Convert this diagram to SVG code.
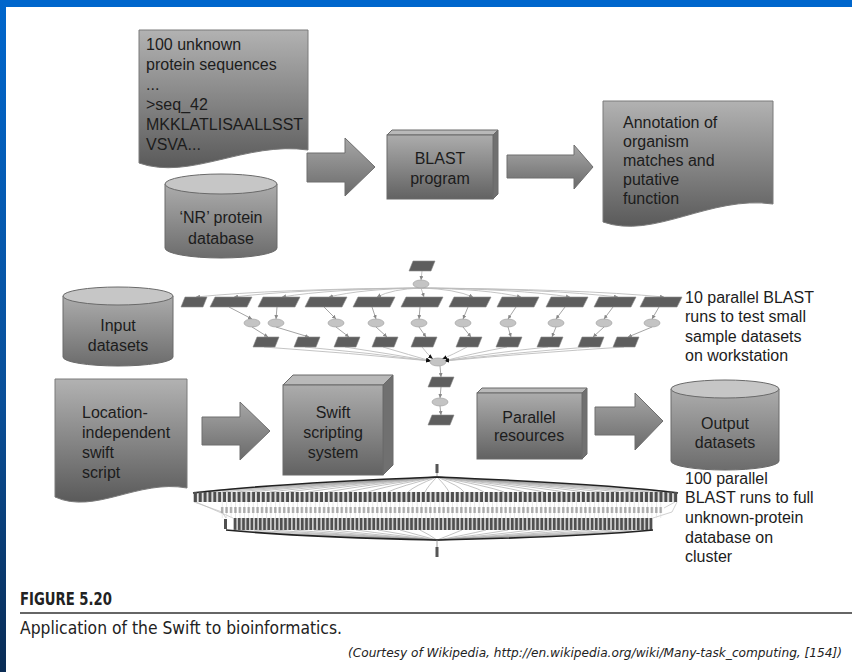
<svg xmlns="http://www.w3.org/2000/svg" xmlns:xlink="http://www.w3.org/1999/xlink" width="852" height="672" viewBox="0 0 852 672">
  <defs>
    <style>
      .t { font-family: "Liberation Sans", Arial, sans-serif; font-size: 16px; fill: #1c1c1c; }
      .c { text-anchor: middle; }
      .doc { fill: url(#gDoc); stroke: #7a7a7a; stroke-width: 1; }
      .arrow { fill: url(#gArrow); stroke: #6e6e6e; stroke-width: 1; }
      .front { fill: url(#gFront); stroke: #6a6a6a; stroke-width: 1; }
      .top { fill: #b9b9b9; stroke: #6a6a6a; stroke-width: 1; }
      .side { fill: #707070; stroke: #6a6a6a; stroke-width: 1; }
      .cylBody { fill: url(#gCyl); stroke: #6a6a6a; stroke-width: 1; }
      .cylTop { fill: #c6c6c6; stroke: #6a6a6a; stroke-width: 1; }
      .pg { fill: #5e5e5e; stroke: #8a8a8a; stroke-width: 0.6; }
      .el { fill: #c4c4c4; stroke: #9a9a9a; stroke-width: 0.6; }
      .e { fill: none; stroke: #bdbdbd; stroke-width: 0.9; }
      .ed { fill: none; stroke: #9a9a9a; stroke-width: 0.9; }
      .cap { font-family: "Liberation Sans Narrow", "DejaVu Sans Condensed", "Liberation Sans", sans-serif; font-stretch: condensed; fill: #222; }
    </style>
    <linearGradient id="blueV" x1="0" y1="0" x2="0" y2="1">
      <stop offset="0" stop-color="#0066cc"/>
      <stop offset="0.6" stop-color="#0a4f98"/>
      <stop offset="1" stop-color="#0a2c55"/>
    </linearGradient>
    <linearGradient id="gDoc" x1="0" y1="0" x2="0" y2="1">
      <stop offset="0" stop-color="#b2b2b2"/>
      <stop offset="1" stop-color="#5a5a5a"/>
    </linearGradient>
    <linearGradient id="gArrow" x1="0" y1="0" x2="0" y2="1">
      <stop offset="0" stop-color="#a6a6a6"/>
      <stop offset="1" stop-color="#6a6a6a"/>
    </linearGradient>
    <linearGradient id="gFront" x1="0" y1="0" x2="0" y2="1">
      <stop offset="0" stop-color="#acacac"/>
      <stop offset="1" stop-color="#626262"/>
    </linearGradient>
    <linearGradient id="gCyl" x1="0" y1="0" x2="0" y2="1">
      <stop offset="0" stop-color="#acacac"/>
      <stop offset="1" stop-color="#6c6c6c"/>
    </linearGradient>
    <!-- task shapes of the workflow graphs -->
    <path id="pw" d="M5,0 H42 L37,10 H0 Z"/>
    <path id="pn" d="M4,0 H26 L22,10 H0 Z"/>
    <marker id="ah" markerWidth="4" markerHeight="4" refX="4" refY="2" orient="auto" markerUnits="userSpaceOnUse">
      <path d="M0,0 L4,2 L0,4 Z" fill="#888"/>
    </marker>
    <marker id="ahk" markerWidth="5" markerHeight="4" refX="5" refY="2" orient="auto" markerUnits="userSpaceOnUse">
      <path d="M0,0 L5,2 L0,4 Z" fill="#111"/>
    </marker>
    <!-- dense rows of the 100-task graph -->
    <pattern id="row1" x="193" y="492" width="4.85" height="10" patternUnits="userSpaceOnUse">
      <rect x="0.7" y="0" width="3.3" height="10" fill="#4e4e4e"/>
    </pattern>
    <pattern id="row2" x="220" y="502" width="4.43" height="16" patternUnits="userSpaceOnUse">
      <rect x="1.8" y="0" width="0.6" height="16" fill="#dcdcdc"/>
      <rect x="1" y="5" width="2.3" height="6" fill="#a8a8a8"/>
    </pattern>
    <pattern id="row3" x="233" y="518" width="4.2" height="12" patternUnits="userSpaceOnUse">
      <rect x="0.6" y="0" width="3" height="12" fill="#505050"/>
    </pattern>
  </defs>

  <!-- page -->
  <rect x="0" y="0" width="852" height="672" fill="#ffffff"/>
  <rect x="0" y="0" width="852" height="7" fill="#0066cc"/>
  <rect x="0" y="0" width="6" height="672" fill="url(#blueV)"/>

  <!-- block arrows -->
  <g id="connectors">
    <path class="arrow" d="M307,153 H345 V138 L375,167 L345,196 V182 H307 Z"/>
    <path class="arrow" d="M507,155 H574 V145 L593,167 L574,189 V178 H507 Z"/>
    <path class="arrow" d="M202,417 H240 V402 L270,431 L240,460 V445 H202 Z"/>
    <path class="arrow" d="M595,407 H635 V393 L663,421 L635,450 V435 H595 Z"/>
  </g>

  <g id="sequences">
    <path class="doc" d="M139,30 H308 V150 C246,141 190,181 139,163 Z"/>
    <text class="t" x="146" y="50">100 unknown</text>
    <text class="t" x="146" y="70">protein sequences</text>
    <text class="t" x="146" y="90">...</text>
    <text class="t" x="146" y="110">&gt;seq_42</text>
    <text class="t" x="146" y="130">MKKLATLISAALLSST</text>
    <text class="t" x="146" y="150">VSVA...</text>
  </g>

  <g id="nr-database">
    <path class="cylBody" d="M165,184 V248 A56,10 0 0 0 277,248 V184 Z"/>
    <ellipse class="cylTop" cx="221" cy="184" rx="56" ry="10"/>
    <text class="t c" x="221" y="223">‘NR’ protein</text>
    <text class="t c" x="221" y="244">database</text>
  </g>

  <g id="blast">
    <polygon class="top" points="387,135 392,130 498,130 493,135"/>
    <polygon class="side" points="493,135 498,130 498,194 493,199"/>
    <rect class="front" x="387" y="135" width="106" height="64"/>
    <text class="t c" x="440" y="164">BLAST</text>
    <text class="t c" x="440" y="184">program</text>
  </g>

  <g id="annotation">
    <path class="doc" d="M603,101 H773 V204 C710,195 654,240 603,222 Z"/>
    <text class="t" x="623" y="128">Annotation of</text>
    <text class="t" x="623" y="147">organism</text>
    <text class="t" x="623" y="166">matches and</text>
    <text class="t" x="623" y="185">putative</text>
    <text class="t" x="623" y="204">function</text>
  </g>

  <g id="input-datasets">
    <path class="cylBody" d="M63,296 V357 A55,9 0 0 0 173,357 V296 Z"/>
    <ellipse class="cylTop" cx="118" cy="296" rx="55" ry="9"/>
    <text class="t c" x="118" y="331">Input</text>
    <text class="t c" x="118" y="351">datasets</text>
  </g>

  <!-- ten-task workflow -->
  <g id="wf-small-edges">
    <line class="e" x1="422" y1="271" x2="421" y2="280" marker-end="url(#ah)"/>
    <g marker-end="url(#ah)">
      <path class="e" d="M421,288 Q275,289 196,297"/>
      <path class="e" d="M421,288 Q299,289 234,297"/>
      <path class="e" d="M421,288 Q330,289 282,297"/>
      <path class="e" d="M421,288 Q361,289 329,297"/>
      <path class="e" d="M421,288 Q392,289 377,297"/>
      <path class="e" d="M421,288 L424,297"/>
      <path class="e" d="M421,288 Q455,289 473,297"/>
      <path class="e" d="M421,288 Q486,289 521,297"/>
      <path class="e" d="M421,288 Q518,289 570,297"/>
      <path class="e" d="M421,288 Q548,289 618,297"/>
      <path class="e" d="M421,288 Q578,289 664,297"/>
      <path class="ed" d="M229,307 L252,319"/>
      <path class="ed" d="M277,307 L276,319"/>
      <path class="ed" d="M324,307 L336,319"/>
      <path class="ed" d="M372,307 L376,319"/>
      <path class="ed" d="M420,307 L419,319"/>
      <path class="ed" d="M468,307 L463,319"/>
      <path class="ed" d="M516,307 L508,319"/>
      <path class="ed" d="M565,307 L556,319"/>
      <path class="ed" d="M613,307 L604,319"/>
      <path class="ed" d="M659,307 L652,319"/>
      <path class="ed" d="M252,327 L268,337"/>
      <path class="ed" d="M276,327 L309,337"/>
      <path class="ed" d="M336,327 L349,337"/>
      <path class="ed" d="M376,327 L387,337"/>
      <path class="ed" d="M419,327 L426,337"/>
      <path class="ed" d="M463,327 L471,337"/>
      <path class="ed" d="M508,327 L511,337"/>
      <path class="ed" d="M556,327 L552,337"/>
      <path class="ed" d="M604,327 L593,337"/>
      <path class="ed" d="M652,327 L628,337"/>
    </g>
    <g marker-end="url(#ahk)">
      <path class="e" d="M264,347 Q350,353 431,361"/>
      <path class="e" d="M305,347 Q370,353 431,361"/>
      <path class="e" d="M345,347 Q390,354 431,361"/>
      <path class="e" d="M383,347 Q410,355 431,361"/>
      <path class="e" d="M422,347 Q428,355 433,359"/>
      <path class="e" d="M467,347 Q452,355 442,359"/>
      <path class="e" d="M507,347 Q470,354 444,361"/>
      <path class="e" d="M548,347 Q490,353 444,361"/>
      <path class="e" d="M589,347 Q510,353 444,361"/>
      <path class="e" d="M624,347 Q530,353 444,361"/>
    </g>
    <g marker-end="url(#ah)">
      <line class="ed" x1="440" y1="366" x2="441" y2="377"/>
      <line class="ed" x1="441" y1="387" x2="440" y2="398"/>
      <line class="ed" x1="440" y1="406" x2="441" y2="415"/>
    </g>
  </g>
  <g id="wf-small-nodes">
    <use href="#pn" class="pg" x="409" y="261"/>
    <ellipse class="el" cx="421" cy="284" rx="8" ry="4"/>
    <use href="#pn" class="pg" x="181" y="297"/>
    <use href="#pw" class="pg" x="210" y="297"/>
    <use href="#pw" class="pg" x="258" y="297"/>
    <use href="#pw" class="pg" x="305" y="297"/>
    <use href="#pw" class="pg" x="353" y="297"/>
    <use href="#pw" class="pg" x="401" y="297"/>
    <use href="#pw" class="pg" x="449" y="297"/>
    <use href="#pw" class="pg" x="497" y="297"/>
    <use href="#pw" class="pg" x="546" y="297"/>
    <use href="#pw" class="pg" x="594" y="297"/>
    <use href="#pw" class="pg" x="640" y="297"/>
    <ellipse class="el" cx="252" cy="323" rx="8" ry="4"/>
    <ellipse class="el" cx="276" cy="323" rx="8" ry="4"/>
    <ellipse class="el" cx="336" cy="323" rx="8" ry="4"/>
    <ellipse class="el" cx="376" cy="323" rx="8" ry="4"/>
    <ellipse class="el" cx="419" cy="323" rx="8" ry="4"/>
    <ellipse class="el" cx="463" cy="323" rx="8" ry="4"/>
    <ellipse class="el" cx="508" cy="323" rx="8" ry="4"/>
    <ellipse class="el" cx="556" cy="323" rx="8" ry="4"/>
    <ellipse class="el" cx="604" cy="323" rx="8" ry="4"/>
    <ellipse class="el" cx="652" cy="323" rx="8" ry="4"/>
    <use href="#pn" class="pg" x="253" y="337"/>
    <use href="#pn" class="pg" x="294" y="337"/>
    <use href="#pn" class="pg" x="334" y="337"/>
    <use href="#pn" class="pg" x="372" y="337"/>
    <use href="#pn" class="pg" x="411" y="337"/>
    <use href="#pn" class="pg" x="456" y="337"/>
    <use href="#pn" class="pg" x="496" y="337"/>
    <use href="#pn" class="pg" x="537" y="337"/>
    <use href="#pn" class="pg" x="578" y="337"/>
    <use href="#pn" class="pg" x="613" y="337"/>
    <ellipse class="el" cx="438" cy="362" rx="8" ry="4"/>
    <use href="#pn" class="pg" x="428" y="377"/>
    <ellipse class="el" cx="440" cy="402" rx="8" ry="4"/>
    <use href="#pn" class="pg" x="428" y="415"/>
  </g>
  <text class="t" x="685" y="303">10 parallel BLAST</text>
  <text class="t" x="685" y="322">runs to test small</text>
  <text class="t" x="685" y="342">sample datasets</text>
  <text class="t" x="685" y="361">on workstation</text>

  <g id="swift-script">
    <path class="doc" d="M55,379 H187 V488 C138,479 95,515 55,497 Z"/>
    <text class="t" x="82" y="418">Location-</text>
    <text class="t" x="82" y="438">independent</text>
    <text class="t" x="82" y="458">swift</text>
    <text class="t" x="82" y="478">script</text>
  </g>

  <g id="swift-system">
    <polygon class="top" points="283,385 293,375 393,375 383,385"/>
    <polygon class="side" points="383,385 393,375 393,465 383,475"/>
    <rect class="front" x="283" y="385" width="100" height="90"/>
    <text class="t c" x="333" y="418">Swift</text>
    <text class="t c" x="333" y="438">scripting</text>
    <text class="t c" x="333" y="458">system</text>
  </g>

  <g id="parallel-resources">
    <polygon class="top" points="477,393 482,388 587,388 582,393"/>
    <polygon class="side" points="582,393 587,388 587,454 582,459"/>
    <rect class="front" x="477" y="393" width="105" height="66"/>
    <text class="t c" x="529" y="423">Parallel</text>
    <text class="t c" x="529" y="441">resources</text>
  </g>

  <g id="output-datasets">
    <path class="cylBody" d="M671,389 V461 A54,9 0 0 0 779,461 V389 Z"/>
    <ellipse class="cylTop" cx="725" cy="389" rx="54" ry="9"/>
    <text class="t c" x="725" y="429">Output</text>
    <text class="t c" x="725" y="448">datasets</text>
  </g>

  <!-- hundred-task workflow -->
  <g id="wf-large">
    <rect x="435.5" y="464" width="3" height="9" fill="#555"/>
    <line x1="437" y1="473" x2="437" y2="477" stroke="#888" stroke-width="0.8"/>
    <!-- fan-out edges -->
    <path fill="none" stroke="#9a9a9a" stroke-width="0.6" d="M437,477 Q266,486 194,492 M437,477 Q276,486 208,492 M437,477 Q286,486 222,492 M437,477 Q296,486 237,492 M437,477 Q306,486 252,492 M437,477 Q318,486 270,492 M437,477 Q330,486 288,492 M437,477 Q344,486 308,492 M437,477 Q358,486 328,492 M437,477 Q372,486 348,492 M437,477 Q386,486 368,492 M437,477 Q400,486 388,492 M437,477 Q414,486 408,492 M437,477 Q428,486 425,492 M437,477 Q608,486 677,492 M437,477 Q598,486 663,492 M437,477 Q588,486 649,492 M437,477 Q578,486 634,492 M437,477 Q568,486 619,492 M437,477 Q556,486 602,492 M437,477 Q544,486 584,492 M437,477 Q530,486 564,492 M437,477 Q516,486 544,492 M437,477 Q502,486 524,492 M437,477 Q488,486 504,492 M437,477 Q474,486 484,492 M437,477 Q460,486 464,492 M437,477 Q446,486 449,492"/>
    <path fill="none" stroke="#222" stroke-width="1.6" d="M437,477 Q266,484 193,493 M437,477 Q608,484 678,493"/>
    <!-- side links down to the lower rows -->
    <path fill="none" stroke="#bbb" stroke-width="0.7" d="M194,502 L222,512 L226,518 M196,502 L233,518 M677,502 L672,512 L653,518 M675,502 L664,508"/>
    <rect x="193" y="492" width="485" height="10" fill="url(#row1)"/>
    <rect x="220" y="502" width="443" height="16" fill="url(#row2)"/>
    <rect x="224" y="519" width="3" height="10" fill="#505050"/>
    <rect x="233" y="518" width="420" height="12" fill="url(#row3)"/>
    <!-- fan-in edges -->
    <path fill="none" stroke="#9a9a9a" stroke-width="0.6" d="M234,530 Q300,535 437,540 M254,530 Q320,535 437,540 M274,530 Q334,535 437,540 M294,530 Q348,535 437,540 M314,530 Q362,535 437,540 M334,530 Q376,535 437,540 M356,530 Q392,535 437,540 M378,530 Q406,535 437,540 M400,530 Q418,535 437,540 M420,530 Q430,535 437,540 M652,530 Q580,535 437,540 M632,530 Q566,535 437,540 M612,530 Q552,535 437,540 M592,530 Q538,535 437,540 M572,530 Q524,535 437,540 M552,530 Q510,535 437,540 M530,530 Q494,535 437,540 M508,530 Q480,535 437,540 M486,530 Q466,535 437,540 M462,530 Q450,535 437,540"/>
    <path fill="none" stroke="#222" stroke-width="1.6" d="M226,530 Q300,537 437,540 M653,530 Q580,537 437,540"/>
    <line x1="437" y1="540" x2="437" y2="547" stroke="#888" stroke-width="0.8"/>
    <rect x="435.5" y="547" width="3" height="10" fill="#555"/>
  </g>
  <text class="t" x="685" y="484">100 parallel</text>
  <text class="t" x="685" y="503">BLAST runs to full</text>
  <text class="t" x="685" y="523">unknown-protein</text>
  <text class="t" x="685" y="543">database on</text>
  <text class="t" x="685" y="562">cluster</text>

  <!-- caption -->
  <g id="caption">
    <text class="cap" x="20" y="605" font-size="18" font-weight="bold" textLength="92" lengthAdjust="spacingAndGlyphs">FIGURE 5.20</text>
    <line x1="20" y1="613" x2="852" y2="613" stroke="#333" stroke-width="1.3"/>
    <text class="cap" x="20" y="634" font-size="17" textLength="322" lengthAdjust="spacingAndGlyphs">Application of the Swift to bioinformatics.</text>
    <text class="cap" x="348" y="657" font-size="12.6" font-style="italic" textLength="494" lengthAdjust="spacingAndGlyphs">(Courtesy of Wikipedia, http://en.wikipedia.org/wiki/Many-task_computing, [154])</text>
  </g>
</svg>
